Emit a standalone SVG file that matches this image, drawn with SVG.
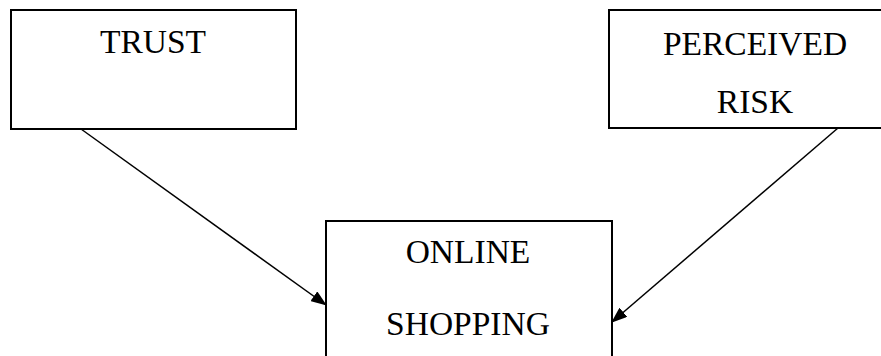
<svg xmlns="http://www.w3.org/2000/svg" width="881" height="356" viewBox="0 0 881 356">
<style>
.box{fill:#fff;stroke:#000;stroke-width:2}
.lbl{font-family:'Liberation Serif','Times New Roman','DejaVu Serif',serif;font-size:33.5px;fill:#000;text-anchor:middle}
.edge{stroke:#000;stroke-width:1.5;fill:none;marker-end:url(#ah)}
</style>
<defs>
<marker id="ah" markerWidth="16" markerHeight="12" refX="15" refY="6" orient="auto" markerUnits="userSpaceOnUse">
<path d="M0,0 L16,6 L0,12 Z" fill="#000"/>
</marker>
</defs>
<rect width="881" height="356" fill="#fff"/>
<g id="trust">
<rect class="box" x="11" y="10" width="285" height="119"/>
<text class="lbl" x="153" y="53" font-family="Liberation Serif, serif">TRUST</text>
</g>
<g id="perceived-risk">
<rect class="box" x="609" y="10" width="280" height="118"/>
<text class="lbl" x="755" y="55" font-family="Liberation Serif, serif">PERCEIVED</text>
<text class="lbl" x="755" y="113" font-family="Liberation Serif, serif">RISK</text>
</g>
<g id="online-shopping">
<rect class="box" x="326" y="221" width="286" height="150"/>
<text class="lbl" x="468" y="263" font-family="Liberation Serif, serif">ONLINE</text>
<text class="lbl" x="468" y="335" font-family="Liberation Serif, serif">SHOPPING</text>
</g>
<g id="connectors">
<line class="edge" x1="81" y1="129" x2="326" y2="305"/>
<line class="edge" x1="838" y1="128" x2="612" y2="322"/>
</g>
</svg>
